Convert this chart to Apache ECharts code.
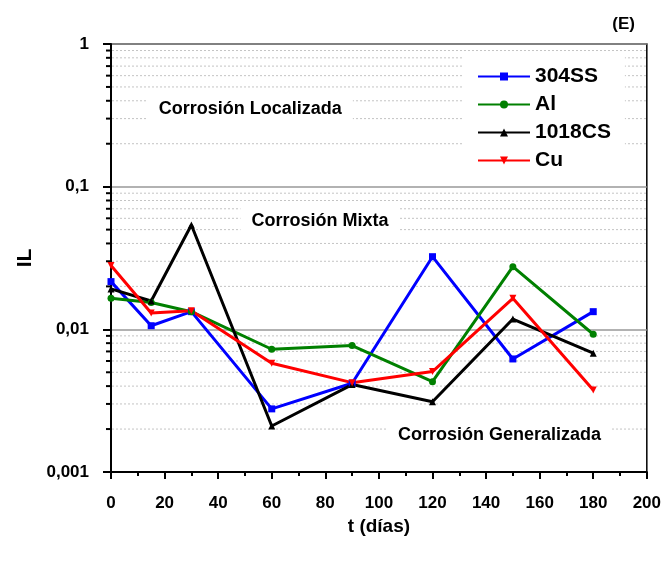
<!DOCTYPE html>
<html>
<head>
<meta charset="utf-8">
<script src="https://cdn.jsdelivr.net/npm/echarts@6/dist/echarts.min.js"></script>
<style>
html,body{margin:0;padding:0;background:#fff;}
#c{width:664px;height:561px;}
</style>
</head>
<body>
<div id="c"></div>
<script>
const days = [0, 15, 30, 60, 90, 120, 150, 180];
const ss304 = [0.0216, 0.0106, 0.0133, 0.00277, 0.00419, 0.0323, 0.0062, 0.0133];
const al = [0.0165, 0.0154, 0.0133, 0.00725, 0.00769, 0.0043, 0.0275, 0.00924];
const cs1018 = [0.0192, 0.0158, 0.0539, 0.0021, 0.0041, 0.00311, 0.0118, 0.0068];
const cu = [0.0280, 0.0130, 0.0135, 0.00578, 0.00423, 0.00506, 0.0165, 0.00376];
const seriesNames = ['304SS', 'Al', '1018CS', 'Cu'];
const yTickLabels = {'-3': '0,001', '-2': '0,01', '-1': '0,1', '0': '1'};
const minorVals = [0.002,0.003,0.004,0.005,0.006,0.007,0.008,0.009,
                   0.02,0.03,0.04,0.05,0.06,0.07,0.08,0.09,
                   0.2,0.3,0.4,0.5,0.6,0.7,0.8,0.9];
const annoText = ['Corrosión Localizada', 'Corrosión Mixta', 'Corrosión Generalizada'];
const annoX = [52, 78, 145];
const annoY = [0.35, 0.057, 0.00182];

const FONT = 'Liberation Sans, Arial, sans-serif';
const colors = ['#0000ff', '#008000', '#000000', '#ff0000'];
const symbols = ['rect', 'circle', 'triangle', 'path://M0,0 L10,0 L5,10 Z'];
const dataSets = [ss304, al, cs1018, cu];

const chart = echarts.init(document.getElementById('c'), null, {renderer: 'canvas'});

const lineSeries = dataSets.map((d, i) => ({
  name: seriesNames[i],
  type: 'line',
  data: days.map((x, j) => [x, d[j]]),
  symbol: symbols[i],
  symbolSize: 7,
  showSymbol: true,
  z: 5,
  lineStyle: {color: colors[i], width: 3},
  itemStyle: {color: colors[i]},
  emphasis: {disabled: true}
}));

const option = {
  animation: false,
  backgroundColor: '#fff',
  title: {
    text: '(E)', right: 24, top: 11,
    textStyle: {fontFamily: FONT, fontWeight: 'bold', fontSize: 17, color: '#000'}
  },
  grid: {left: 111, right: 17, top: 44, bottom: 89, show: true, borderColor: '#000', borderWidth: 1.5, backgroundColor: 'transparent'},
  legend: {
    data: seriesNames,
    orient: 'vertical',
    left: 463, top: 56,
    padding: [10, 14, 10, 14],
    itemWidth: 52, itemHeight: 10, itemGap: 7,
    backgroundColor: '#fff',
    textStyle: {fontFamily: FONT, fontWeight: 'bold', fontSize: 21, color: '#000', padding: [0,0,0,0]},
    z: 6
  },
  xAxis: {
    type: 'value', min: 0, max: 200, interval: 20,
    name: 't (días)', nameLocation: 'middle', nameGap: 39,
    nameTextStyle: {fontFamily: FONT, fontWeight: 'bold', fontSize: 19, color: '#000'},
    axisLine: {show: true, lineStyle: {color: '#000', width: 2}},
    axisTick: {show: true, length: 7, lineStyle: {color: '#000', width: 2}},
    minorTick: {show: true, splitNumber: 2, length: 4, lineStyle: {color: '#000', width: 2}},
    axisLabel: {fontFamily: FONT, fontWeight: 'bold', fontSize: 17, color: '#000', margin: 23},
    splitLine: {show: false}
  },
  yAxis: {
    type: 'log', logBase: 10, min: 0.001, max: 1,
    name: 'IL', nameLocation: 'middle', nameGap: 74,
    nameTextStyle: {fontFamily: FONT, fontWeight: 'bold', fontSize: 21, color: '#000'},
    axisLine: {show: true, lineStyle: {color: '#000', width: 2}},
    axisTick: {show: true, length: 8, lineStyle: {color: '#000', width: 2}},
    axisLabel: {
      fontFamily: FONT, fontWeight: 'bold', fontSize: 17, color: '#000', margin: 22,
      formatter: v => yTickLabels[String(Math.round(Math.log10(v)))] || ''
    },
    splitLine: {show: true, lineStyle: {color: '#999', width: 1.5}}
  },
  series: [
    {
      name: 'minor',
      type: 'custom',
      data: minorVals.map(v => [0, v]),
      z: 1,
      silent: true,
      renderItem: (params, api) => {
        const v = api.value(1);
        const p0 = api.coord([0, v]);
        const p1 = api.coord([200, v]);
        return {
          type: 'group',
          children: [
            {type: 'line', shape: {x1: p0[0] - 5, y1: p0[1], x2: p0[0], y2: p0[1]}, style: {stroke: '#000', lineWidth: 2}},
            {type: 'line', shape: {x1: p0[0] + 1, y1: p0[1], x2: p1[0], y2: p1[1]}, style: {stroke: '#c4c4c4', lineWidth: 1, lineDash: [2, 2]}}
          ]
        };
      }
    },
    {
      name: 'anno',
      type: 'scatter',
      data: annoX.map((x, i) => ({value: [x, annoY[i]], name: annoText[i]})),
      symbolSize: 0,
      z: 3,
      silent: true,
      itemStyle: {opacity: 1},
      label: {
        show: true, position: 'inside', opacity: 1,
        formatter: p => p.name,
        fontFamily: FONT, fontWeight: 'bold', fontSize: 18, color: '#000',
        backgroundColor: '#fff', padding: [10, 11, 10, 11]
      }
    },
    ...lineSeries
  ]
};
chart.setOption(option);
</script>
</body>
</html>
